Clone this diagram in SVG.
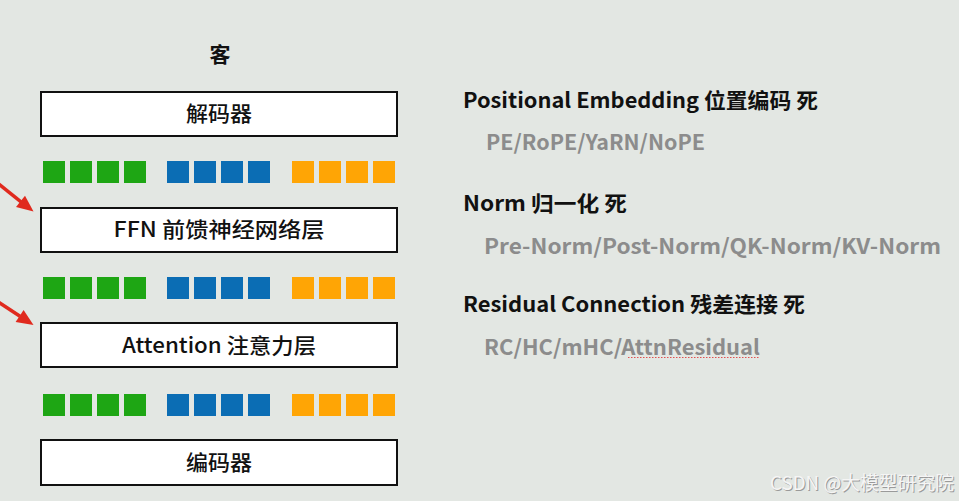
<svg xmlns="http://www.w3.org/2000/svg" width="959" height="501" viewBox="0 0 959 501">
<defs>
<style>
.bg{fill:#e3e7e3}
.box{fill:#ffffff;stroke:#111111;stroke-width:2}
.bt{font-family:"Noto Sans CJK SC","Noto Sans",sans-serif;font-size:21px;font-weight:500;fill:#111111;text-anchor:middle}
.g{fill:#1ea614}.b{fill:#0b6db4}.o{fill:#ffa505}
.h{font-family:"Noto Sans CJK SC","Noto Sans",sans-serif;font-size:21px;font-weight:bold;fill:#111111}
.s{font-family:"Noto Sans CJK SC","Noto Sans",sans-serif;font-size:21px;font-weight:bold;fill:#8c8c8c}
.arr{stroke:#e02a1e;stroke-width:3.5;fill:none}
.ah{fill:#e02a1e}
.wm{font-family:"Noto Sans CJK SC","Liberation Sans",sans-serif;font-size:19px}
</style>
<g id="sq">
<rect class="g" x="0" y="0" width="22" height="22"/>
<rect class="g" x="27" y="0" width="22" height="22"/>
<rect class="g" x="54" y="0" width="22" height="22"/>
<rect class="g" x="81" y="0" width="22" height="22"/>
<rect class="b" x="124" y="0" width="22" height="22"/>
<rect class="b" x="151" y="0" width="22" height="22"/>
<rect class="b" x="178" y="0" width="22" height="22"/>
<rect class="b" x="205" y="0" width="22" height="22"/>
<rect class="o" x="249" y="0" width="22" height="22"/>
<rect class="o" x="276" y="0" width="22" height="22"/>
<rect class="o" x="303" y="0" width="22" height="22"/>
<rect class="o" x="330" y="0" width="22" height="22"/>
</g>
</defs>
<rect class="bg" x="0" y="0" width="959" height="501"/>
<text class="h" x="220" y="62" text-anchor="middle" font-size="27">客</text>

<g id="decoder"><rect class="box" x="41" y="92" width="356" height="44"/><text class="bt" x="219" y="121" textLength="66" lengthAdjust="spacingAndGlyphs">解码器</text></g>
<g id="tokens1"><use href="#sq" x="43" y="161"/></g>
<g id="ffn"><rect class="box" x="41" y="208" width="356" height="44"/><text class="bt" x="219" y="237" textLength="211" lengthAdjust="spacingAndGlyphs">FFN 前馈神经网络层</text></g>
<g id="tokens2"><use href="#sq" x="43" y="277"/></g>
<g id="attention"><rect class="box" x="41" y="323" width="356" height="44"/><text class="bt" x="219" y="353" textLength="194" lengthAdjust="spacingAndGlyphs">Attention 注意力层</text></g>
<g id="tokens3"><use href="#sq" x="43" y="394"/></g>
<g id="encoder"><rect class="box" x="41" y="440" width="356" height="45"/><text class="bt" x="219" y="470" textLength="66" lengthAdjust="spacingAndGlyphs">编码器</text></g>

<g id="connectors">
<line class="arr" x1="-2" y1="183.5" x2="21" y2="201.8"/>
<polygon class="ah" points="33.5,211.5 16,207 25,195.8"/>
<line class="arr" x1="-2" y1="301.7" x2="20" y2="316.3"/>
<polygon class="ah" points="33.5,325 15.6,322 23.6,310"/>
</g>

<g id="notes">
<text class="h" x="463" y="108" textLength="355" lengthAdjust="spacingAndGlyphs">Positional Embedding 位置编码 死</text>
<text class="s" x="486" y="150" textLength="219" lengthAdjust="spacingAndGlyphs">PE/RoPE/YaRN/NoPE</text>
<text class="h" x="463" y="211" textLength="164" lengthAdjust="spacingAndGlyphs">Norm 归一化 死</text>
<text class="s" x="484" y="254" textLength="457" lengthAdjust="spacingAndGlyphs">Pre-Norm/Post-Norm/QK-Norm/KV-Norm</text>
<text class="h" x="463" y="312" textLength="342" lengthAdjust="spacingAndGlyphs">Residual Connection 残差连接 死</text>
<text class="s" x="484" y="355" textLength="276" lengthAdjust="spacingAndGlyphs">RC/HC/mHC/AttnResidual</text>
<line x1="628" y1="357.5" x2="760" y2="357.5" stroke="#e05050" stroke-width="1" stroke-dasharray="1.5 1.5"/>
</g>

<g id="watermark">
<text class="wm" x="771" y="491" fill="#9a9a9a" textLength="184" lengthAdjust="spacingAndGlyphs">CSDN @大模型研究院</text>
<text class="wm" x="770" y="490" fill="#f5f5f5" textLength="184" lengthAdjust="spacingAndGlyphs">CSDN @大模型研究院</text>
</g>
</svg>
